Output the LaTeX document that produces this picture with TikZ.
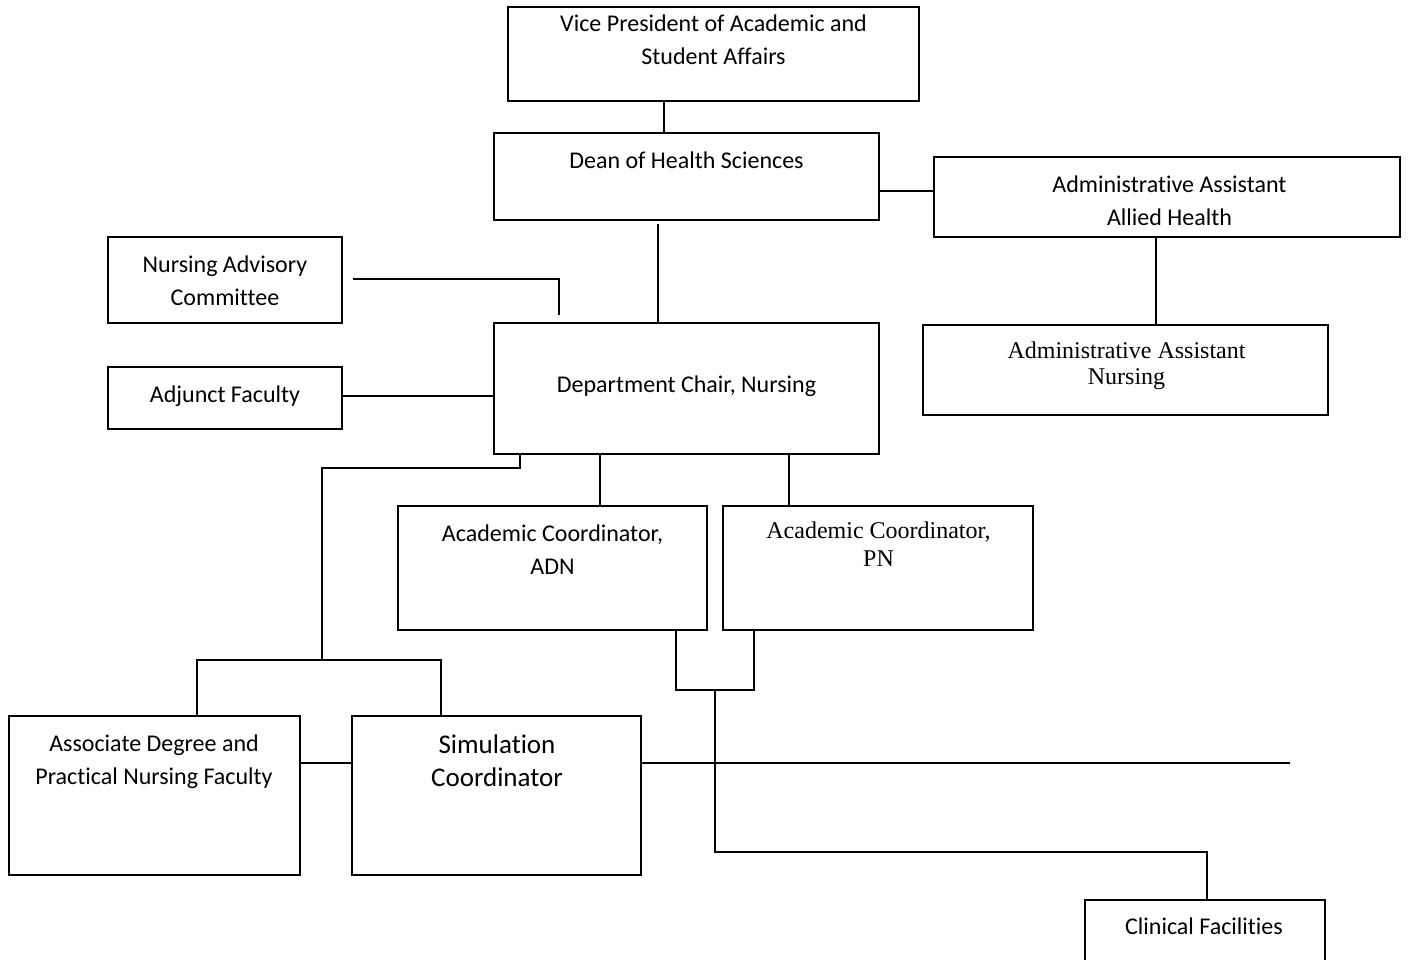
\documentclass[tikz,border=0pt]{standalone}
\usepackage{fontspec}
\setmainfont{Carlito}[Ligatures=NoCommon]
\newfontfamily\tnr{Liberation Serif}
\usetikzlibrary{calc}
\tikzset{
  box/.style={draw, line width=1.9pt, rectangle, inner sep=0pt},
  txt/.style={anchor=base, align=center, inner sep=0pt, font=\fontsize{24}{33}\selectfont},
  txtser/.style={anchor=base, align=center, inner sep=0pt, font=\tnr\fontsize{24}{26}\selectfont},
  txtbig/.style={anchor=base, align=center, inner sep=0pt, font=\fontsize{27}{33}\selectfont},
  conn/.style={line width=1.9pt}
}
\begin{document}
\begin{tikzpicture}[x=1pt,y=-1pt]
\useasboundingbox (0,0) rectangle (1408,959);
\clip (0,0) rectangle (1408,959);
\fill[white] (0,0) rectangle (1408,959);
% boxes
\node[box, minimum width=411, minimum height=94] (vp) at (713.5,54) {};
\node[box, minimum width=385, minimum height=87] (dean) at (686.5,176.5) {};
\node[box, minimum width=466, minimum height=80] (aaah) at (1167,197) {};
\node[box, minimum width=405, minimum height=90] (aan) at (1125.5,370) {};
\node[box, minimum width=234, minimum height=86] (nac) at (225,280) {};
\node[box, minimum width=385, minimum height=131] (chair) at (686.5,388.5) {};
\node[box, minimum width=234, minimum height=62] (adj) at (225,398) {};
\node[box, minimum width=309, minimum height=124] (acadn) at (552.5,568) {};
\node[box, minimum width=310, minimum height=124] (acpn) at (878,568) {};
\node[box, minimum width=291, minimum height=159] (adnfac) at (154.5,795.5) {};
\node[box, minimum width=289, minimum height=159] (sim) at (496.5,795.5) {};
\node[box, minimum width=240, minimum height=90] (clin) at (1205,945) {};
% texts (base = baseline of the last line)
\node[txt] (vpt) at (713.5,64) {Vice President of Academic and\\Student Affairs};
\node[txt] (deant) at (686.5,168) {Dean of Health Sciences};
\node[txt] (aaaht) at (1169.5,225) {Administrative Assistant\\Allied Health};
\node[txtser] (aant) at (1126.5,384) {Administrative Assistant\\Nursing};
\node[txt] (nact) at (225,305) {Nursing Advisory\\Committee};
\node[txt] (chairt) at (686.5,392) {Department Chair, Nursing};
\node[txt] (adjt) at (225,402) {Adjunct Faculty};
\node[txt] (acadnt) at (552.5,574) {Academic Coordinator,\\ADN};
\node[txtser, font=\tnr\fontsize{24}{28}\selectfont] (acpnt) at (878.5,566) {Academic Coordinator,\\PN};
\node[txt] (adnfact) at (154,784) {Associate Degree and\\Practical Nursing Faculty};
\node[txtbig] (simt) at (497,786) {Simulation\\Coordinator};
\node[txt] (clint) at (1204,934) {Clinical Facilities};
% helper coordinates
\coordinate (nacA) at ($(nac.east |- 0,279)+(10,0)$);
\coordinate (nacB) at (559,279);
\coordinate (nacC) at ($(chair.north -| 559,0)+(0,-7)$);
\coordinate (ch1) at (520,468);
\coordinate (ch2) at (322,468);
\coordinate (j1) at (322,660);
\coordinate (j1L) at (197,660);
\coordinate (j1R) at (441,660);
\coordinate (ac1) at (676,690);
\coordinate (ac2) at (754,690);
\coordinate (ac3) at (715,690);
\coordinate (cf1) at (715,852);
\coordinate (cf2) at (1207,852);
\coordinate (simEnd) at (1290,763);
% connectors
\draw[conn] (vp.south -| 664,0) -- (dean.north -| 664,0);
\draw[conn] (dean.east |- 0,191) -- (aaah.west |- 0,191);
\draw[conn] (aaah.south -| 1156,0) -- (aan.north -| 1156,0);
\draw[conn] ($(dean.south -| 658,0)+(0,3)$) -- (chair.north -| 658,0);
\draw[conn] (nacA) -- (nacB) -- (nacC);
\draw[conn] (adj.east |- 0,396) -- (chair.west |- 0,396);
\draw[conn] (chair.south -| ch1) -- (ch1) -- (ch2) -- (j1);
\draw[conn] (adnfac.north -| j1L) -- (j1L) -- (j1R) -- (sim.north -| j1R);
\draw[conn] (chair.south -| 600,0) -- (acadn.north -| 600,0);
\draw[conn] (chair.south -| 789,0) -- (acpn.north -| 789,0);
\draw[conn] (acadn.south -| ac1) -- (ac1) -- (ac2) -- (acpn.south -| ac2);
\draw[conn] (ac3) -- (cf1) -- (cf2) -- (clin.north -| cf2);
\draw[conn] (adnfac.east |- 0,763) -- (sim.west |- 0,763);
\draw[conn] (sim.east |- 0,763) -- (simEnd);
\end{tikzpicture}
\end{document}
